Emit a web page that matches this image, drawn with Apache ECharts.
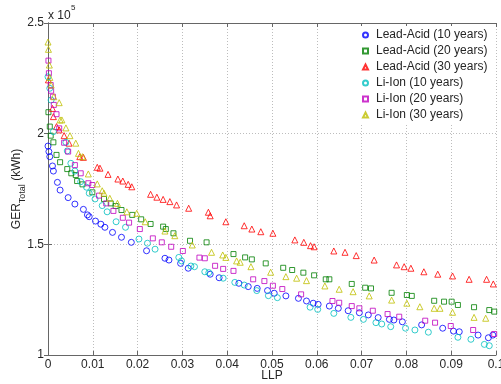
<!DOCTYPE html>
<html>
<head>
<meta charset="utf-8">
<script src="https://cdn.jsdelivr.net/npm/echarts@6/dist/echarts.min.js"></script>
<style>
  html, body { margin: 0; padding: 0; background: #fff; }
  #chart { width: 501px; height: 384px; }
</style>
</head>
<body>
<div id="chart"></div>
<script>
// [LLP, GER_Total in units of 1e5 kWh]
const leadAcid10 = [[0,1.944],[0.0002,1.919],[0.0004,1.896],[0.001,1.854],[0.0012,1.831],[0.0021,1.780],[0.0027,1.745],[0.0045,1.711],[0.006,1.682],[0.0079,1.658],[0.0088,1.633],[0.0092,1.625],[0.0106,1.605],[0.0118,1.591],[0.0127,1.577],[0.0144,1.554],[0.0164,1.532],[0.0186,1.509],[0.022,1.471],[0.0261,1.437],[0.027,1.429],[0.0296,1.414],[0.0313,1.392],[0.0362,1.365],[0.0382,1.349],[0.0426,1.324],[0.0447,1.309],[0.0467,1.301],[0.049,1.291],[0.0505,1.279],[0.0531,1.267],[0.0559,1.256],[0.0577,1.244],[0.0592,1.234],[0.0603,1.229],[0.0628,1.221],[0.0648,1.211],[0.067,1.200],[0.0695,1.191],[0.0715,1.181],[0.0737,1.169],[0.0762,1.161],[0.0772,1.158],[0.0791,1.150],[0.0834,1.136],[0.0881,1.121],[0.0905,1.108],[0.0918,1.105],[0.096,1.090],[0.0983,1.078],[0.0993,1.090]]
const leadAcid20 = [[0.0001,2.097],[0.0004,2.032],[0.0006,1.991],[0.0012,1.961],[0.0019,1.904],[0.0027,1.871],[0.0043,1.840],[0.0052,1.821],[0.0062,1.813],[0.0065,1.786],[0.0077,1.771],[0.0099,1.735],[0.0125,1.705],[0.014,1.685],[0.0151,1.673],[0.0164,1.655],[0.0188,1.633],[0.0208,1.613],[0.0229,1.592],[0.0257,1.580],[0.0263,1.569],[0.028,1.550],[0.0317,1.516],[0.0354,1.509],[0.0414,1.456],[0.044,1.441],[0.0455,1.432],[0.0486,1.414],[0.0525,1.394],[0.0545,1.384],[0.057,1.372],[0.0594,1.360],[0.062,1.342],[0.0628,1.342],[0.0678,1.321],[0.0708,1.304],[0.0721,1.301],[0.0767,1.281],[0.0801,1.271],[0.0812,1.267],[0.0862,1.245],[0.0884,1.241],[0.0901,1.241],[0.0915,1.226],[0.0951,1.216],[0.0985,1.203],[0.0996,1.196]]
const leadAcid30 = [[0.0001,2.243],[0.001,2.114],[0.0012,2.077],[0.0019,2.032],[0.0025,2.017],[0.0036,1.991],[0.0047,1.957],[0.0071,1.896],[0.0079,1.893],[0.011,1.848],[0.0116,1.844],[0.0134,1.816],[0.0156,1.795],[0.0167,1.786],[0.0179,1.771],[0.0187,1.760],[0.0229,1.726],[0.0243,1.713],[0.0257,1.703],[0.0272,1.693],[0.0287,1.678],[0.0314,1.663],[0.0358,1.645],[0.0362,1.629],[0.0397,1.602],[0.0438,1.584],[0.0455,1.569],[0.0475,1.557],[0.0502,1.550],[0.0551,1.520],[0.0571,1.509],[0.0586,1.494],[0.0594,1.489],[0.0638,1.470],[0.0663,1.464],[0.0688,1.449],[0.0728,1.429],[0.0778,1.407],[0.0795,1.399],[0.081,1.392],[0.0839,1.376],[0.087,1.365],[0.0903,1.357],[0.094,1.342],[0.0979,1.342],[0.0994,1.321]]
const liIon10 = [[0,2.257],[0.0004,2.205],[0.0007,2.152],[0.0012,2.009],[0.004,1.961],[0.0043,1.922],[0.0051,1.866],[0.006,1.831],[0.0073,1.783],[0.0086,1.758],[0.0092,1.731],[0.0105,1.705],[0.0121,1.675],[0.0132,1.647],[0.0152,1.602],[0.0173,1.577],[0.0203,1.524],[0.0222,1.505],[0.0239,1.478],[0.0292,1.441],[0.0298,1.425],[0.0319,1.402],[0.0327,1.399],[0.035,1.376],[0.0359,1.372],[0.0391,1.347],[0.0417,1.328],[0.0438,1.316],[0.0466,1.291],[0.0492,1.268],[0.0512,1.259],[0.0585,1.216],[0.0602,1.206],[0.0638,1.188],[0.0676,1.170],[0.0704,1.161],[0.0732,1.146],[0.0745,1.140],[0.0765,1.128],[0.0798,1.121],[0.0819,1.113],[0.0849,1.103],[0.0915,1.080],[0.0944,1.071],[0.0974,1.048],[0.0985,1.042]]
const liIon20 = [[0.0001,2.330],[0.0002,2.273],[0.0006,2.220],[0.0007,2.194],[0.0011,2.167],[0.0013,2.130],[0.0019,2.088],[0.0025,2.024],[0.0036,1.959],[0.0045,1.919],[0.006,1.858],[0.0073,1.821],[0.009,1.776],[0.0099,1.768],[0.0114,1.720],[0.013,1.685],[0.0146,1.651],[0.0167,1.620],[0.0181,1.598],[0.0205,1.569],[0.0234,1.527],[0.0254,1.509],[0.0275,1.489],[0.0301,1.470],[0.0338,1.440],[0.035,1.437],[0.0373,1.403],[0.0391,1.389],[0.0414,1.380],[0.0458,1.342],[0.0483,1.334],[0.0502,1.313],[0.0523,1.298],[0.0565,1.274],[0.0635,1.244],[0.065,1.236],[0.0678,1.221],[0.0695,1.211],[0.0725,1.200],[0.0758,1.185],[0.0784,1.173],[0.0842,1.155],[0.0864,1.146],[0.0899,1.131],[0.0949,1.113],[0.0996,1.095]]
const liIon30 = [[0,2.414],[0.0001,2.381],[0.0003,2.310],[0.0004,2.254],[0.0007,2.220],[0.0013,2.167],[0.0025,2.140],[0.0027,2.062],[0.0031,2.062],[0.004,2.026],[0.0049,1.991],[0.0062,1.957],[0.0068,1.911],[0.0077,1.896],[0.009,1.818],[0.011,1.773],[0.0121,1.742],[0.0125,1.731],[0.0138,1.708],[0.0155,1.685],[0.0176,1.647],[0.0198,1.640],[0.0217,1.602],[0.0261,1.560],[0.0283,1.539],[0.0322,1.497],[0.0365,1.464],[0.039,1.452],[0.0397,1.441],[0.0421,1.425],[0.0429,1.419],[0.0453,1.399],[0.0497,1.374],[0.0531,1.354],[0.0555,1.347],[0.0577,1.336],[0.0618,1.312],[0.065,1.297],[0.0681,1.286],[0.0717,1.267],[0.0767,1.248],[0.0801,1.234],[0.083,1.218],[0.0862,1.211],[0.0875,1.211],[0.0903,1.193],[0.0951,1.170],[0.0977,1.166]]

const seriesNames = ['Lead-Acid (10 years)', 'Lead-Acid (20 years)', 'Lead-Acid (30 years)',
  'Li-Ion (10 years)', 'Li-Ion (20 years)', 'Li-Ion (30 years)']
const seriesData = [leadAcid10, leadAcid20, leadAcid30, liIon10, liIon20, liIon30]
const seriesColors = ['#0000ff', '#008000', '#ff0000', '#00bfbf', '#bf00bf', '#bfbf00']
const seriesSymbols = ['circle', 'rect', 'triangle', 'circle', 'rect', 'triangle']
const symbolSizes = { circle: 6, rect: 5, triangle: 6 }

const FONT = "'Liberation Sans', Arial, sans-serif"
const AXIS_COLOR = '#666'
const LABEL_COLOR = '#262626'

const chart = echarts.init(document.getElementById('chart'), null, { renderer: 'canvas' })

const baseX = {
  type: 'value', min: 0, max: 0.1, interval: 0.01,
  axisLine: { show: true, lineStyle: { color: AXIS_COLOR, width: 1 } },
  axisTick: { show: true, inside: true, length: 4, lineStyle: { color: AXIS_COLOR } }
}
const baseY = {
  type: 'value', min: 1, max: 2.5, interval: 0.5,
  axisLine: { show: true, lineStyle: { color: AXIS_COLOR, width: 1 } },
  axisTick: { show: true, inside: true, length: 4, lineStyle: { color: AXIS_COLOR } }
}
const gridLine = { show: true, lineStyle: { color: '#bdbdbd', type: [1, 2], width: 1 } }

chart.setOption({
  animation: false,
  backgroundColor: '#fff',
  textStyle: { fontFamily: FONT },
  grid: { left: 48, right: 5, top: 23, bottom: 29, containLabel: false, outerBoundsMode: 'none' },
  legend: {
    data: seriesNames,
    orient: 'vertical',
    left: 359, top: 26,
    padding: [2, 3, 2, 3],
    itemWidth: 5, itemHeight: 5, itemGap: 2,
    backgroundColor: '#fff',
    selectedMode: false,
    textStyle: { fontSize: 12, lineHeight: 14, color: LABEL_COLOR, fontFamily: FONT, padding: [0, 0, 0, 3] }
  },
  graphic: [
    { type: 'text', left: 48, top: 10, z: 10,
      style: { text: 'x 10', font: '12px ' + FONT, fill: LABEL_COLOR } },
    { type: 'text', left: 71, top: 4, z: 10,
      style: { text: '5', font: '8px ' + FONT, fill: LABEL_COLOR } }
  ],
  xAxis: [
    Object.assign({}, baseX, {
      position: 'bottom',
      name: 'LLP', nameLocation: 'middle', nameGap: 15, nameMoveOverlap: false,
      nameTextStyle: { fontSize: 12, color: LABEL_COLOR, fontFamily: FONT },
      axisLabel: { margin: 4, fontSize: 12, color: LABEL_COLOR, fontFamily: FONT,
        formatter: (v) => String(+v.toFixed(2)) },
      splitLine: gridLine
    }),
    Object.assign({}, baseX, { position: 'top', axisLabel: { show: false }, splitLine: { show: false } })
  ],
  yAxis: [
    Object.assign({}, baseY, {
      position: 'left',
      name: '{a|GER}{b|Total}{a| (kWh)}',
      nameLocation: 'middle', nameRotate: 90, nameGap: 21, nameMoveOverlap: false,
      nameTextStyle: {
        color: LABEL_COLOR, fontFamily: FONT,
        rich: {
          a: { fontSize: 12, lineHeight: 20, verticalAlign: 'middle', color: LABEL_COLOR, fontFamily: FONT },
          b: { fontSize: 9, lineHeight: 10, verticalAlign: 'bottom', color: LABEL_COLOR, fontFamily: FONT }
        }
      },
      axisLabel: { margin: 4, fontSize: 12, color: LABEL_COLOR, fontFamily: FONT,
        formatter: (v) => String(+v.toFixed(1)) },
      splitLine: gridLine
    }),
    Object.assign({}, baseY, { position: 'right', axisLabel: { show: false }, splitLine: { show: false } })
  ],
  series: seriesNames.map((name, i) => ({
    name,
    type: 'scatter',
    xAxisIndex: 0, yAxisIndex: 0,
    clip: false,
    symbol: seriesSymbols[i],
    symbolSize: symbolSizes[seriesSymbols[i]],
    itemStyle: { color: 'rgba(0,0,0,0)', borderColor: seriesColors[i], borderWidth: 1 },
    emphasis: { disabled: true },
    data: seriesData[i]
  }))
})
</script>
</body>
</html>
